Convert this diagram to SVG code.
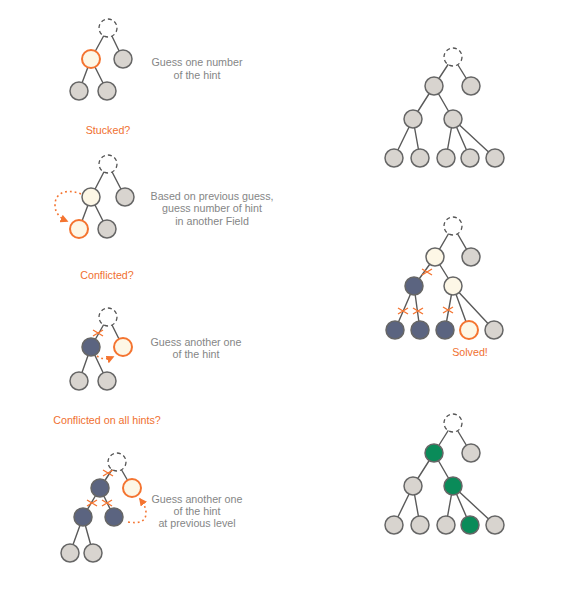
<svg xmlns="http://www.w3.org/2000/svg" width="563" height="595" viewBox="0 0 563 595">
<defs>
<style>
.e{stroke:#5a5a5a;stroke-width:1.4;fill:none}
.n{stroke:#666;stroke-width:1.5}
.g{fill:#d8d4cf}
.b{fill:#fdf7e6}
.d{fill:#5b6480}
.gr{fill:#0a8b59}
.o{fill:#fdf7e6;stroke:#f47430;stroke-width:2}
.r{fill:#fff;stroke:#555;stroke-width:1.3;stroke-dasharray:4 3}
.x{stroke:#f47430;stroke-width:1.4;fill:none}
.dot{stroke:#f47430;stroke-width:1.6;fill:none;stroke-dasharray:1.8 3}
.t{font-family:"Liberation Sans",Arial,sans-serif;font-size:10.7px;fill:#858686;text-anchor:middle}
.ot{font-family:"Liberation Sans",Arial,sans-serif;font-size:10.7px;fill:#f07030;text-anchor:middle}
</style>
<marker id="ah" viewBox="0 0 10 10" refX="8" refY="5" markerWidth="5" markerHeight="5" orient="auto" markerUnits="strokeWidth">
<path d="M0,0 L10,5 L0,10 z" fill="#f47430"/>
</marker>
</defs>

<g id="connectors">
<path class="e" d="M108,28 L91,59 M108,28 L123,59 M91,59 L79,91 M91,59 L107,91"/>
<path class="e" d="M108,164 L91,197 M108,164 L125,197 M91,197 L79,229 M91,197 L107,229"/>
<path class="dot" d="M81,194 C66,188 55,193 55,205 C55,213 60,218 67,221" marker-end="url(#ah)"/>
<path class="e" d="M108,317 L91,347 M108,317 L123,347 M91,347 L79,381 M91,347 L107,381"/>
<path class="x" d="M93,330 L103,336 M93,336 L103,330"/>
<path class="dot" d="M97,356 Q104,361 113,357" marker-end="url(#ah)"/>
<path class="e" d="M117,462 L100,488 M117,462 L132,488 M100,488 L83,517 M100,488 L114,517 M83,517 L70,553 M83,517 L93,553"/>
<path class="x" d="M103,470 L113,476 M103,476 L113,470 M87,500 L97,506 M87,506 L97,500 M102,500 L112,506 M102,506 L112,500"/>
<path class="dot" d="M128,522 C140,524 146,521 146,513 C146,507 143,503 140,499" marker-end="url(#ah)"/>
<path class="e" d="M453,57 L434,86 M453,57 L471,86 M434,86 L413,119 M434,86 L453,119 M413,119 L394,158 M413,119 L420,158 M453,119 L446,158 M453,119 L470,158 M453,119 L495,158"/>
<path class="e" d="M453,226 L435,257 M453,226 L471,257 M435,257 L414,286 M435,257 L453,286 M414,286 L395,330 M414,286 L420,330 M453,286 L445,330 M453,286 L469,330 M453,286 L494,330"/>
<path class="x" d="M422,269 L432,275 M422,275 L432,269 M398,308 L408,314 M398,314 L408,308 M413,308 L423,314 M413,314 L423,308 M443,307 L453,313 M443,313 L453,307"/>
<path class="e" d="M453,423 L434,453 M453,423 L471,453 M434,453 L413,486 M434,453 L453,486 M413,486 L394,525 M413,486 L420,525 M453,486 L446,525 M453,486 L470,525 M453,486 L495,525"/>
</g>

<g id="panel1">
<circle class="r" cx="108" cy="28" r="9"/>
<circle class="o" cx="91" cy="59" r="9"/>
<circle class="n g" cx="123" cy="59" r="9"/>
<circle class="n g" cx="79" cy="91" r="9"/>
<circle class="n g" cx="107" cy="91" r="9"/>
<text class="t" x="197" y="66">Guess one number</text>
<text class="t" x="197" y="78.5">of the hint</text>
<text class="ot" x="108" y="134">Stucked?</text>
</g>

<g id="panel2">
<circle class="r" cx="108" cy="164" r="9"/>
<circle class="n b" cx="91" cy="197" r="9"/>
<circle class="n g" cx="125" cy="197" r="9"/>
<circle class="o" cx="79" cy="229" r="9"/>
<circle class="n g" cx="107" cy="229" r="9"/>
<text class="t" x="212" y="199.5">Based on previous guess,</text>
<text class="t" x="212" y="212">guess number of hint</text>
<text class="t" x="212" y="224.5">in another Field</text>
<text class="ot" x="107" y="279">Conflicted?</text>
</g>

<g id="panel3">
<circle class="r" cx="108" cy="317" r="9"/>
<circle class="n d" cx="91" cy="347" r="9"/>
<circle class="o" cx="123" cy="347" r="9"/>
<circle class="n g" cx="79" cy="381" r="9"/>
<circle class="n g" cx="107" cy="381" r="9"/>
<text class="t" x="196" y="345.5">Guess another one</text>
<text class="t" x="196" y="358">of the hint</text>
<text class="ot" x="107" y="424">Conflicted on all hints?</text>
</g>

<g id="panel4">
<circle class="r" cx="117" cy="462" r="9"/>
<circle class="n d" cx="100" cy="488" r="9"/>
<circle class="o" cx="132" cy="488" r="9"/>
<circle class="n d" cx="83" cy="517" r="9"/>
<circle class="n d" cx="114" cy="517" r="9"/>
<circle class="n g" cx="70" cy="553" r="9"/>
<circle class="n g" cx="93" cy="553" r="9"/>
<text class="t" x="197" y="503">Guess another one</text>
<text class="t" x="197" y="515">of the hint</text>
<text class="t" x="197" y="527">at previous level</text>
</g>

<g id="tree1">
<circle class="r" cx="453" cy="57" r="9"/>
<circle class="n g" cx="434" cy="86" r="9"/>
<circle class="n g" cx="471" cy="86" r="9"/>
<circle class="n g" cx="413" cy="119" r="9"/>
<circle class="n g" cx="453" cy="119" r="9"/>
<circle class="n g" cx="394" cy="158" r="9"/>
<circle class="n g" cx="420" cy="158" r="9"/>
<circle class="n g" cx="446" cy="158" r="9"/>
<circle class="n g" cx="470" cy="158" r="9"/>
<circle class="n g" cx="495" cy="158" r="9"/>
</g>

<g id="tree2">
<circle class="r" cx="453" cy="226" r="9"/>
<circle class="n b" cx="435" cy="257" r="9"/>
<circle class="n g" cx="471" cy="257" r="9"/>
<circle class="n d" cx="414" cy="286" r="9"/>
<circle class="n b" cx="453" cy="286" r="9"/>
<circle class="n d" cx="395" cy="330" r="9"/>
<circle class="n d" cx="420" cy="330" r="9"/>
<circle class="n d" cx="445" cy="330" r="9"/>
<circle class="o" cx="469" cy="330" r="9"/>
<circle class="n g" cx="494" cy="330" r="9"/>
<text class="ot" x="470" y="355.5">Solved!</text>
</g>

<g id="tree3">
<circle class="r" cx="453" cy="423" r="9"/>
<circle class="n gr" cx="434" cy="453" r="9"/>
<circle class="n g" cx="471" cy="453" r="9"/>
<circle class="n g" cx="413" cy="486" r="9"/>
<circle class="n gr" cx="453" cy="486" r="9"/>
<circle class="n g" cx="394" cy="525" r="9"/>
<circle class="n g" cx="420" cy="525" r="9"/>
<circle class="n g" cx="446" cy="525" r="9"/>
<circle class="n gr" cx="470" cy="525" r="9"/>
<circle class="n g" cx="495" cy="525" r="9"/>
</g>
</svg>
